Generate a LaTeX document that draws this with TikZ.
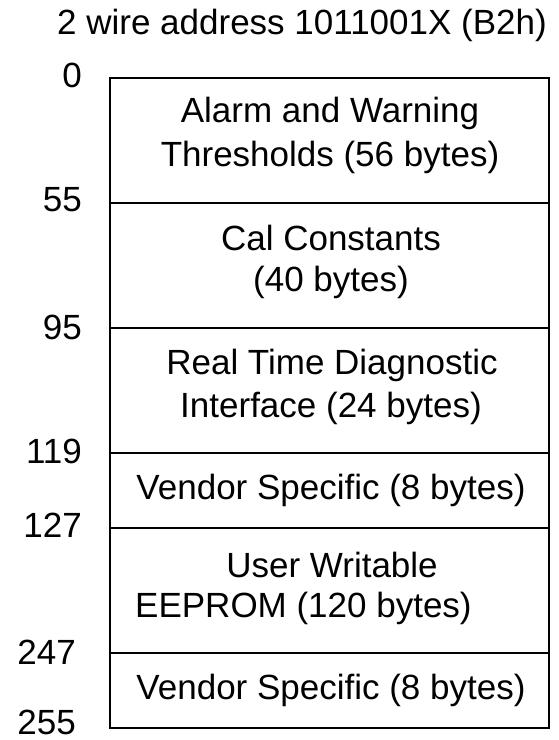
\documentclass[tikz,border=0pt]{standalone}
\usepackage{fontspec}
\setmainfont{Liberation Sans}
\begin{document}
\begin{tikzpicture}[x=1pt,y=-1pt,
  txt/.style={inner sep=0pt,font=\fontsize{35}{42}\selectfont},
  addr/.style={txt,anchor=east},
  box/.style={draw=black,line width=2.8pt}]
\useasboundingbox (0,0) rectangle (559,740);
\node[txt] (title) at (302,25) {2 wire address 1011001X (B2h)};
% boxes
\draw[box] (110,78) rectangle (549,203);
\draw[box] (110,203) rectangle (549,328);
\draw[box] (110,328) rectangle (549,453);
\draw[box] (110,453) rectangle (549,528);
\draw[box] (110,528) rectangle (549,653);
\draw[box] (110,653) rectangle (549,728);
% address labels
\node[addr] (a0) at (82,75) {0};
\node[addr] (a55) at (82,200) {55};
\node[addr] (a95) at (82,327) {95};
\node[addr] (a119) at (82,451) {119};
\node[addr] (a127) at (82,525) {127};
\node[addr] (a247) at (76,652) {247};
\node[addr] (a255) at (76,722) {255};
% box texts
\node[txt] (t1a) at (330,113) {Alarm and Warning};
\node[txt] (t1b) at (330,157) {Thresholds (56 bytes)};
\node[txt] (t2a) at (331,238) {Cal Constants};
\node[txt] (t2b) at (331,282) {(40 bytes)};
\node[txt] (t3a) at (332,365) {Real Time Diagnostic};
\node[txt] (t3b) at (331,408) {Interface (24 bytes)};
\node[txt] (t4) at (331,490) {Vendor Specific (8 bytes)};
\node[txt] (t5a) at (332,565) {User Writable};
\node[txt,anchor=west] (t5b) at (135,608) {EEPROM (120 bytes)};
\node[txt] (t6) at (331,690) {Vendor Specific (8 bytes)};
\end{tikzpicture}
\end{document}
